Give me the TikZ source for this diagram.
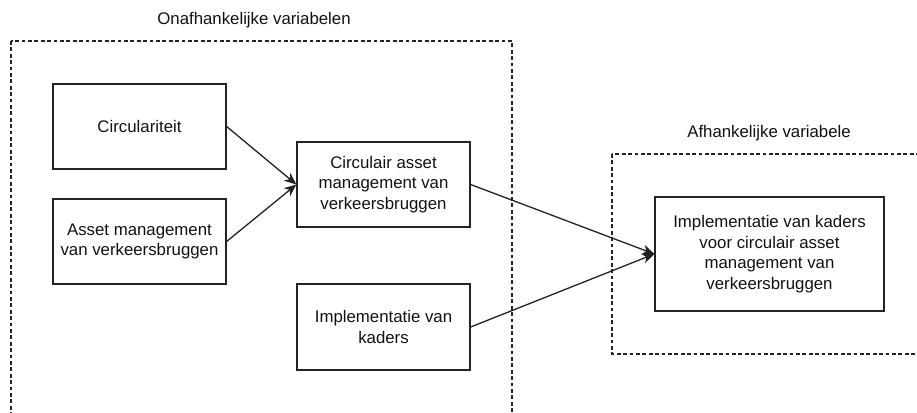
\documentclass[tikz,border=0pt]{standalone}
\usepackage{fontspec}
\setmainfont{Liberation Sans}
\usetikzlibrary{arrows.meta}
\definecolor{edge}{HTML}{222222}
\definecolor{ink}{HTML}{111111}
\begin{document}
\begin{tikzpicture}[x=1pt,y=-1pt,
  every node/.style={font=\fontsize{16.8}{20.5}\selectfont, text=ink},
  varbox/.style={draw=edge, line width=1.3pt, align=center, inner sep=0pt},
  groupbox/.style={draw=edge, line width=1.3pt, dash pattern=on 3.8pt off 2.6pt},
  link/.style={draw=edge, line width=1.3pt, -{Stealth[length=12pt,width=10pt,inset=3.5pt]}},
  caption/.style={inner sep=0pt}
]
\useasboundingbox (0,0) rectangle (917,412);
\clip (0,0) rectangle (917,412);

% group frames
\draw[groupbox] (11,41) rectangle (512,440);
\draw[groupbox] (612,154) rectangle (950,354);
\node[caption] (t1) at (254,20) {Onafhankelijke variabelen};
\node[caption] (t2) at (769,133) {Afhankelijke variabele};

% independent variables
\node[varbox, minimum width=173pt, minimum height=85pt] (circ) at (139.5,126.5) {Circulariteit};
\node[varbox, minimum width=173pt, minimum height=85pt] (asset) at (139.5,241.5) {Asset management\\van verkeersbruggen};
\node[varbox, minimum width=173pt, minimum height=85pt] (cam) at (383.5,184.5) {Circulair asset\\management van\\verkeersbruggen};
\node[varbox, minimum width=173pt, minimum height=86pt] (impl) at (383.5,327) {Implementatie van\\kaders};

% dependent variable
\node[varbox, minimum width=229pt, minimum height=114pt] (kader) at (769.5,254) {Implementatie van kaders\\voor circulair asset\\management van\\verkeersbruggen};

% relations
\draw[link] (circ.east) -- (cam.west);
\draw[link] (asset.east) -- (cam.west);
\draw[link] (cam.east) -- (kader.west);
\draw[link] (impl.east) -- (kader.west);
\end{tikzpicture}
\end{document}
